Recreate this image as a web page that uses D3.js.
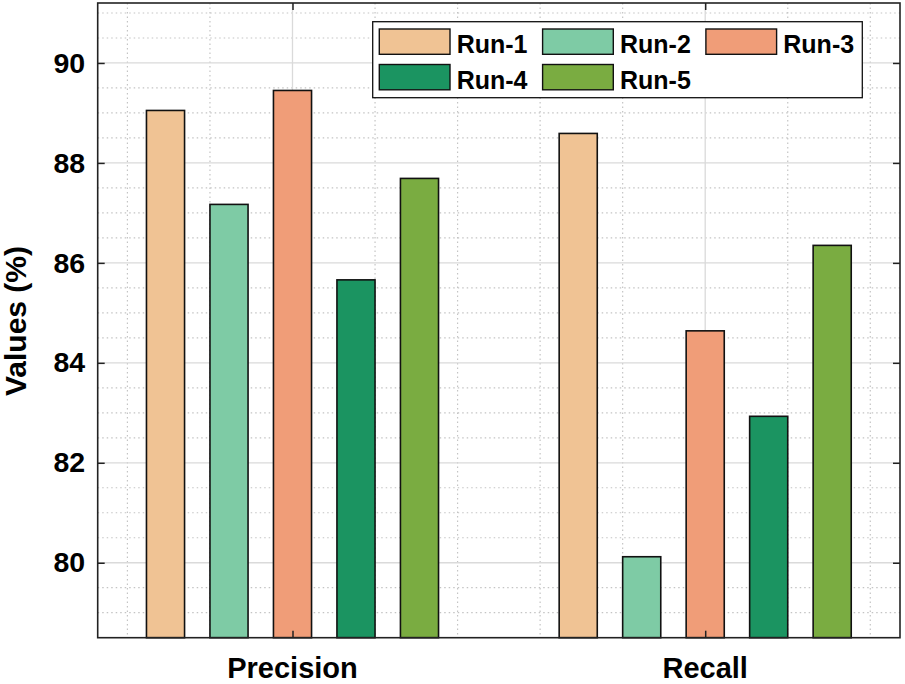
<!DOCTYPE html>
<html>
<head>
<meta charset="utf-8">
<script src="https://cdn.jsdelivr.net/npm/d3@7"></script>
<style>
  html, body { margin: 0; padding: 0; background: #fff; }
  svg { display: block; font-family: "Liberation Sans", Arial, sans-serif; font-weight: bold; }
</style>
</head>
<body>
<svg id="chart" width="905" height="684"></svg>
<script>
// ---- data ----
const categories = ["Precision", "Recall"];
const runs = ["Run-1", "Run-2", "Run-3", "Run-4", "Run-5"];
const precisionValues = [89.05, 87.17, 89.45, 85.66, 87.69];
const recallValues = [88.59, 80.12, 84.64, 82.93, 86.35];
const runColors = ["#F0C394", "#7ECBA5", "#F09D78", "#1B9461", "#7AAC41"];
const yTicks = [80, 82, 84, 86, 88, 90];

const seriesByCategory = [precisionValues, recallValues];

// ---- layout ----
const svg = d3.select("#chart");
const plot = { left: 97.7, right: 900, top: 3, bottom: 637.7 };

const x = d3.scaleLinear().domain([0.528, 2.472]).range([plot.left, plot.right]);
const y = d3.scaleLinear().domain([78.5, 91.2]).range([plot.bottom, plot.top]);
const groupHalf = 5 / 6.5 / 2;
const inner = d3.scaleBand().domain(runs).range([-groupHalf, groupHalf]).paddingInner(0.4).paddingOuter(0.2);
const color = d3.scaleOrdinal().domain(runs).range(runColors);

const g = svg.append("g");

// ---- grid ----
const minorY = d3.range(79, 91.01, 0.5).filter(v => Math.abs(v % 2) > 1e-6);
const minorX = d3.range(0.6, 2.41, 0.2).filter(v => Math.abs(v - 1) > 1e-6 && Math.abs(v - 2) > 1e-6);

g.selectAll(".minorY").data(minorY).enter().append("line")
  .attr("x1", plot.left).attr("x2", plot.right)
  .attr("y1", d => y(d)).attr("y2", d => y(d))
  .attr("stroke", "#c4c4c4").attr("stroke-width", 1.2).attr("stroke-dasharray", "1.5,3");
g.selectAll(".minorX").data(minorX).enter().append("line")
  .attr("y1", plot.top).attr("y2", plot.bottom)
  .attr("x1", d => x(d)).attr("x2", d => x(d))
  .attr("stroke", "#c4c4c4").attr("stroke-width", 1.2).attr("stroke-dasharray", "1.5,3");
g.selectAll(".majorY").data(yTicks).enter().append("line")
  .attr("x1", plot.left).attr("x2", plot.right)
  .attr("y1", d => y(d)).attr("y2", d => y(d))
  .attr("stroke", "#dadada").attr("stroke-width", 1.3);
g.selectAll(".majorX").data([1, 2]).enter().append("line")
  .attr("y1", plot.top).attr("y2", plot.bottom)
  .attr("x1", d => x(d)).attr("x2", d => x(d))
  .attr("stroke", "#dadada").attr("stroke-width", 1.3);

// ---- bars ----
categories.forEach((cat, ci) => {
  const vals = seriesByCategory[ci];
  g.selectAll(".bar-" + ci).data(runs).enter().append("rect")
    .attr("x", r => x(ci + 1 + inner(r)))
    .attr("width", r => x(ci + 1 + inner(r) + inner.bandwidth()) - x(ci + 1 + inner(r)))
    .attr("y", (r, i) => y(vals[i]))
    .attr("height", (r, i) => y(78.5) - y(vals[i]))
    .attr("fill", r => color(r))
    .attr("stroke", "#111").attr("stroke-width", 1.6);
});

// ---- axes ----
const axisColor = "#222";
const yLeft = d3.axisLeft(y).tickValues(yTicks).tickSize(-7).tickPadding(12.5).tickFormat(d3.format("d"));
const yRight = d3.axisRight(y).tickValues(yTicks).tickSize(-7).tickFormat("");
const xBottom = d3.axisBottom(x).tickValues([1, 2]).tickSize(-7).tickFormat("");
const xTop = d3.axisTop(x).tickValues([1, 2]).tickSize(-7).tickFormat("");

function styleAxis(sel) {
  sel.select(".domain").remove();
  sel.selectAll(".tick line").attr("stroke", axisColor).attr("stroke-width", 1.5);
}
const gyl = svg.append("g").attr("transform", `translate(${plot.left},0)`).call(yLeft).call(styleAxis);
gyl.selectAll(".tick text").attr("font-size", 28.5).attr("font-weight", "bold")
  .attr("font-family", "Liberation Sans, Arial, sans-serif").attr("fill", "#000");
svg.append("g").attr("transform", `translate(${plot.right},0)`).call(yRight).call(styleAxis);
svg.append("g").attr("transform", `translate(0,${plot.bottom})`).call(xBottom).call(styleAxis);
svg.append("g").attr("transform", `translate(0,${plot.top})`).call(xTop).call(styleAxis);

// frame
svg.append("rect")
  .attr("x", plot.left).attr("y", plot.top)
  .attr("width", plot.right - plot.left).attr("height", plot.bottom - plot.top)
  .attr("fill", "none").attr("stroke", axisColor).attr("stroke-width", 1.6);

// category labels
svg.selectAll(".catlabel").data(categories).enter().append("text")
  .attr("x", (d, i) => x(i + 1)).attr("y", 678)
  .attr("text-anchor", "middle").attr("font-size", 29).attr("fill", "#000")
  .text(d => d);

// y label
svg.append("text")
  .attr("transform", "translate(26,321) rotate(-90)")
  .attr("text-anchor", "middle").attr("font-size", 30).attr("fill", "#000")
  .text("Values (%)");

// ---- legend ----
const legend = svg.append("g");
legend.append("rect")
  .attr("x", 372.7).attr("y", 21.7).attr("width", 489.6).attr("height", 76)
  .attr("fill", "#fff").attr("stroke", "#111").attr("stroke-width", 1.3);
const cols = 3;
const items = legend.selectAll(".item").data(runs).enter().append("g")
  .attr("transform", (d, i) => `translate(${379.3 + (i % cols) * 163.3},${29 + Math.floor(i / cols) * 35.5})`);
items.append("rect")
  .attr("width", 70.7).attr("height", 25.3)
  .attr("fill", d => color(d)).attr("stroke", "#111").attr("stroke-width", 1.4);
items.append("text")
  .attr("x", 77.4).attr("y", 24.2)
  .attr("font-size", 25).attr("fill", "#000")
  .text(d => d);
</script>
</body>
</html>
